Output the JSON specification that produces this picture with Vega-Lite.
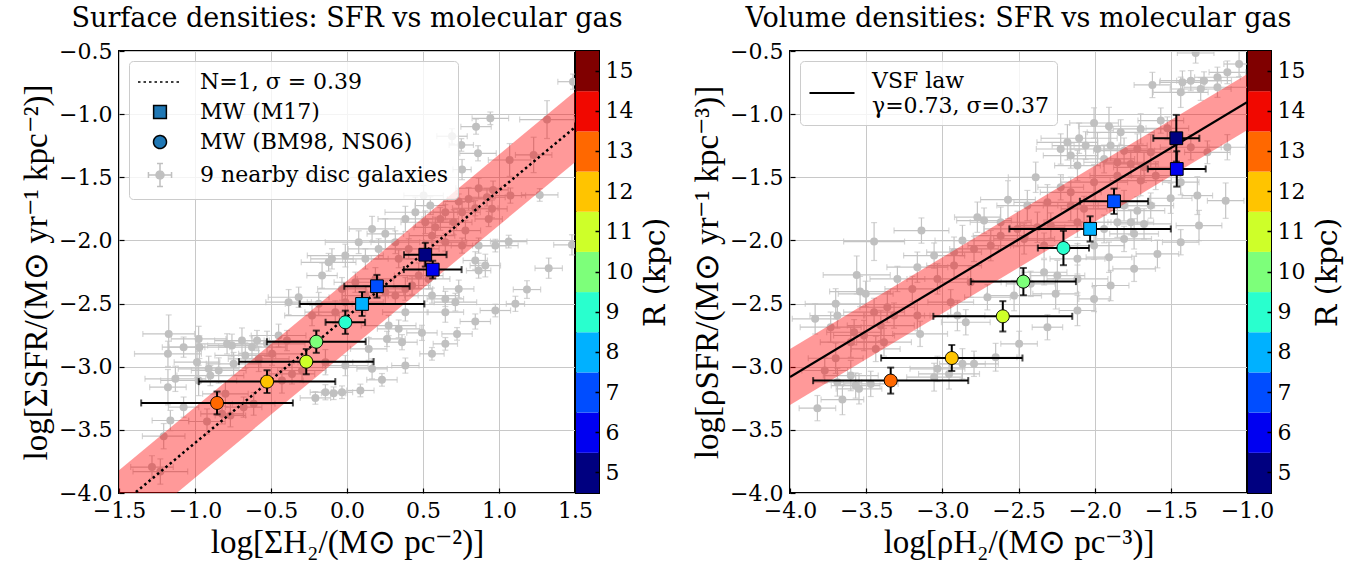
{
"$schema": "https://vega.github.io/schema/vega-lite/v6.json",
"background": "white",
"padding": {"left": 19, "top": 4, "right": 0, "bottom": 0},
"config": {
  "font": "DejaVu Serif",
  "view": {"stroke": "black", "strokeWidth": 2},
  "axis": {"labelFont": "DejaVu Serif", "labelFontSize": 22, "labelColor": "black", "titleFont": "Liberation Serif", "titleFontSize": 33, "titleFontWeight": "normal", "titleColor": "black", "gridColor": "#c8c8c8", "gridWidth": 1, "domain": false, "tickColor": "black", "tickSize": -5, "tickWidth": 1.2, "labelPadding": 12, "titlePadding": 5, "labelOverlap": false, "labelFlush": false},
  "title": {"font": "DejaVu Serif", "fontSize": 27, "fontWeight": "normal", "anchor": "middle", "offset": 7, "color": "black"}
},
"datasets": {
  "galL": [
    {"x":1.487,"y":-0.743,"ex":0.10,"ey":0.06},{"x":0.943,"y":-1.033,"ex":0.12,"ey":0.05},{"x":0.849,"y":-1.099,"ex":0.10,"ey":0.06},{"x":1.316,"y":-1.043,"ex":0.18,"ey":0.15},{"x":0.691,"y":-1.175,"ex":0.10,"ey":0.06},{"x":0.752,"y":-1.244,"ex":0.08,"ey":0.05},{"x":0.862,"y":-1.310,"ex":0.12,"ey":0.06},{"x":1.228,"y":-1.323,"ex":0.12,"ey":0.14},{"x":1.070,"y":-1.363,"ex":0.14,"ey":0.13},{"x":0.757,"y":-1.439,"ex":0.06,"ey":0.08},
    {"x":0.961,"y":-1.600,"ex":0.10,"ey":0.07},{"x":1.268,"y":-1.640,"ex":0.12,"ey":0.05},{"x":1.075,"y":-1.645,"ex":0.10,"ey":0.06},{"x":0.866,"y":-1.587,"ex":0.15,"ey":0.08},{"x":0.921,"y":-1.658,"ex":0.12,"ey":0.07},{"x":0.800,"y":-1.671,"ex":0.14,"ey":0.09},{"x":0.735,"y":-1.692,"ex":0.10,"ey":0.06},{"x":0.504,"y":-1.645,"ex":0.13,"ey":0.08},{"x":0.548,"y":-1.724,"ex":0.10,"ey":0.07},{"x":0.647,"y":-1.777,"ex":0.08,"ey":0.06},
    {"x":0.757,"y":-1.777,"ex":0.12,"ey":0.08},{"x":0.844,"y":-1.745,"ex":0.15,"ey":0.06},{"x":0.954,"y":-1.750,"ex":0.10,"ey":0.07},{"x":0.702,"y":-1.856,"ex":0.12,"ey":0.10},{"x":0.779,"y":-1.922,"ex":0.10,"ey":0.08},{"x":0.932,"y":-1.830,"ex":0.09,"ey":0.06},{"x":0.647,"y":-2.014,"ex":0.14,"ey":0.07},{"x":0.757,"y":-2.041,"ex":0.20,"ey":0.06},{"x":0.866,"y":-2.041,"ex":0.18,"ey":0.06},{"x":0.976,"y":-2.041,"ex":0.15,"ey":0.05},
    {"x":1.064,"y":-2.009,"ex":0.12,"ey":0.05},{"x":1.480,"y":-2.035,"ex":0.12,"ey":0.08},{"x":0.844,"y":-2.159,"ex":0.08,"ey":0.07},{"x":0.910,"y":-2.199,"ex":0.10,"ey":0.09},{"x":0.866,"y":-2.239,"ex":0.08,"ey":0.06},{"x":1.327,"y":-2.220,"ex":0.09,"ey":0.08},{"x":1.184,"y":-2.389,"ex":0.09,"ey":0.07},{"x":1.108,"y":-2.502,"ex":0.06,"ey":0.06},{"x":0.976,"y":-2.555,"ex":0.10,"ey":0.05},{"x":0.844,"y":-2.642,"ex":0.10,"ey":0.06},
    {"x":0.647,"y":-2.568,"ex":0.12,"ey":0.08},{"x":0.713,"y":-2.489,"ex":0.14,"ey":0.07},{"x":0.559,"y":-2.437,"ex":0.18,"ey":0.06},{"x":0.735,"y":-2.384,"ex":0.10,"ey":0.07},{"x":0.647,"y":-2.463,"ex":0.12,"ey":0.06},{"x":0.559,"y":-2.898,"ex":0.08,"ey":0.05},{"x":0.647,"y":-2.819,"ex":0.08,"ey":0.05},{"x":0.724,"y":-2.740,"ex":0.10,"ey":0.05},{"x":0.384,"y":-2.991,"ex":0.09,"ey":0.06},{"x":0.230,"y":-3.104,"ex":0.10,"ey":0.05},
    {"x":0.088,"y":-3.188,"ex":0.09,"ey":0.05},{"x":-0.033,"y":-3.202,"ex":0.07,"ey":0.05},{"x":-0.088,"y":-3.210,"ex":0.08,"ey":0.05},{"x":-0.142,"y":-3.202,"ex":0.10,"ey":0.06},{"x":-0.208,"y":-3.247,"ex":0.10,"ey":0.05},{"x":0.384,"y":-2.568,"ex":0.15,"ey":0.07},{"x":0.493,"y":-2.732,"ex":0.10,"ey":0.06},{"x":0.362,"y":-2.806,"ex":0.10,"ey":0.06},{"x":0.263,"y":-2.780,"ex":0.12,"ey":0.06},{"x":0.340,"y":-2.700,"ex":0.14,"ey":0.07},
    {"x":0.274,"y":-2.674,"ex":0.18,"ey":0.08},{"x":0.384,"y":-2.384,"ex":0.18,"ey":0.09},{"x":0.428,"y":-2.357,"ex":0.12,"ey":0.07},{"x":0.472,"y":-2.278,"ex":0.16,"ey":0.10},{"x":0.537,"y":-2.305,"ex":0.14,"ey":0.08},{"x":0.252,"y":-2.410,"ex":0.12,"ey":0.09},{"x":0.318,"y":-2.437,"ex":0.15,"ey":0.07},{"x":0.165,"y":-1.909,"ex":0.15,"ey":0.10},{"x":0.252,"y":-1.948,"ex":0.12,"ey":0.12},{"x":0.077,"y":-2.014,"ex":0.22,"ey":0.09},
    {"x":0.208,"y":-2.067,"ex":0.20,"ey":0.08},{"x":-0.121,"y":-2.173,"ex":0.18,"ey":0.07},{"x":-0.099,"y":-2.146,"ex":0.14,"ey":0.08},{"x":-0.164,"y":-2.278,"ex":0.10,"ey":0.10},{"x":-0.011,"y":-2.120,"ex":0.25,"ey":0.09},{"x":-0.318,"y":-2.450,"ex":0.20,"ey":0.08},{"x":-0.384,"y":-2.489,"ex":0.15,"ey":0.10},{"x":-0.186,"y":-2.502,"ex":0.22,"ey":0.09},{"x":-0.230,"y":-2.595,"ex":0.18,"ey":0.08},{"x":-0.077,"y":-2.568,"ex":0.20,"ey":0.09},
    {"x":-0.011,"y":-2.489,"ex":0.25,"ey":0.10},{"x":0.450,"y":-1.777,"ex":0.20,"ey":0.12},{"x":0.384,"y":-1.830,"ex":0.18,"ey":0.10},{"x":0.515,"y":-1.856,"ex":0.16,"ey":0.09},{"x":0.581,"y":-1.896,"ex":0.14,"ey":0.08},{"x":0.614,"y":-1.830,"ex":0.12,"ey":0.09},{"x":0.559,"y":-1.962,"ex":0.15,"ey":0.10},{"x":-1.173,"y":-2.740,"ex":0.17,"ey":0.15},{"x":-1.178,"y":-2.898,"ex":0.22,"ey":0.10},{"x":-1.075,"y":-2.845,"ex":0.14,"ey":0.08},
    {"x":-0.976,"y":-2.780,"ex":0.18,"ey":0.10},{"x":-0.971,"y":-2.845,"ex":0.20,"ey":0.09},{"x":-0.987,"y":-2.964,"ex":0.15,"ey":0.12},{"x":-0.789,"y":-2.819,"ex":0.20,"ey":0.08},{"x":-0.757,"y":-2.832,"ex":0.16,"ey":0.09},{"x":-0.691,"y":-2.793,"ex":0.18,"ey":0.10},{"x":-0.592,"y":-2.793,"ex":0.20,"ey":0.08},{"x":-0.625,"y":-2.845,"ex":0.22,"ey":0.09},{"x":-0.526,"y":-2.819,"ex":0.25,"ey":0.10},{"x":-0.450,"y":-2.753,"ex":0.18,"ey":0.09},
    {"x":-0.395,"y":-2.793,"ex":0.15,"ey":0.08},{"x":-0.669,"y":-2.911,"ex":0.20,"ey":0.10},{"x":-0.746,"y":-2.977,"ex":0.18,"ey":0.09},{"x":-0.581,"y":-2.938,"ex":0.20,"ey":0.10},{"x":-0.493,"y":-2.898,"ex":0.22,"ey":0.09},{"x":-0.910,"y":-3.017,"ex":0.20,"ey":0.10},{"x":-0.899,"y":-3.070,"ex":0.22,"ey":0.08},{"x":-0.844,"y":-3.030,"ex":0.18,"ey":0.10},{"x":-0.976,"y":-3.109,"ex":0.25,"ey":0.12},{"x":-1.129,"y":-3.096,"ex":0.20,"ey":0.10},
    {"x":-1.178,"y":-3.162,"ex":0.12,"ey":0.14},{"x":-1.075,"y":-3.320,"ex":0.10,"ey":0.08},{"x":-1.162,"y":-3.426,"ex":0.12,"ey":0.08},{"x":-1.206,"y":-3.550,"ex":0.14,"ey":0.10},{"x":-1.283,"y":-3.795,"ex":0.14,"ey":0.09},{"x":-1.228,"y":-3.830,"ex":0.18,"ey":0.10},{"x":-0.800,"y":-3.215,"ex":0.15,"ey":0.10},{"x":-0.680,"y":-3.320,"ex":0.12,"ey":0.08},{"x":-0.614,"y":-3.294,"ex":0.14,"ey":0.09},{"x":-0.921,"y":-3.434,"ex":0.12,"ey":0.10},
    {"x":-0.822,"y":-3.373,"ex":0.14,"ey":0.08},{"x":-0.767,"y":-3.386,"ex":0.10,"ey":0.09},{"x":-0.362,"y":-3.057,"ex":0.15,"ey":0.08},{"x":-0.428,"y":-3.109,"ex":0.14,"ey":0.10},{"x":-0.296,"y":-3.030,"ex":0.16,"ey":0.09},{"x":-0.142,"y":-2.964,"ex":0.18,"ey":0.10},{"x":-0.011,"y":-2.991,"ex":0.15,"ey":0.08},{"x":0.143,"y":-2.859,"ex":0.12,"ey":0.09},{"x":0.165,"y":-3.017,"ex":0.10,"ey":0.08},{"x":0.121,"y":-2.146,"ex":0.15,"ey":0.08},
    {"x":0.187,"y":-2.305,"ex":0.12,"ey":0.09},{"x":0.055,"y":-2.331,"ex":0.14,"ey":0.08},{"x":-0.033,"y":-2.384,"ex":0.16,"ey":0.09},{"x":0.121,"y":-2.437,"ex":0.15,"ey":0.08},{"x":0.340,"y":-2.146,"ex":0.18,"ey":0.07},{"x":0.406,"y":-2.067,"ex":0.20,"ey":0.08},{"x":0.318,"y":-2.014,"ex":0.16,"ey":0.09}
  ],
  "galR": [
    {"x":-1.337,"y":-0.516,"ex":0.12,"ey":0.08},{"x":-1.052,"y":-0.603,"ex":0.10,"ey":0.10},{"x":-1.129,"y":-0.669,"ex":0.12,"ey":0.09},{"x":-1.194,"y":-0.708,"ex":0.15,"ey":0.08},{"x":-1.282,"y":-0.735,"ex":0.18,"ey":0.07},{"x":-1.369,"y":-0.735,"ex":0.20,"ey":0.08},{"x":-1.424,"y":-0.748,"ex":0.15,"ey":0.09},{"x":-1.621,"y":-0.769,"ex":0.12,"ey":0.10},{"x":-1.435,"y":-0.827,"ex":0.18,"ey":0.12},{"x":-1.304,"y":-0.801,"ex":0.20,"ey":0.09},
    {"x":-1.194,"y":-0.787,"ex":0.22,"ey":0.08},{"x":-1.566,"y":-1.051,"ex":0.15,"ey":0.10},{"x":-1.698,"y":-1.117,"ex":0.18,"ey":0.12},{"x":-1.906,"y":-1.096,"ex":0.20,"ey":0.15},{"x":-2.004,"y":-1.070,"ex":0.16,"ey":0.12},{"x":-1.829,"y":-1.144,"ex":0.22,"ey":0.10},{"x":-1.523,"y":-1.112,"ex":0.14,"ey":0.09},{"x":-2.102,"y":-1.191,"ex":0.25,"ey":0.12},{"x":-2.179,"y":-1.223,"ex":0.20,"ey":0.14},{"x":-2.059,"y":-1.249,"ex":0.22,"ey":0.11},
    {"x":-1.982,"y":-1.276,"ex":0.18,"ey":0.13},{"x":-1.895,"y":-1.249,"ex":0.24,"ey":0.12},{"x":-1.807,"y":-1.289,"ex":0.20,"ey":0.10},{"x":-1.720,"y":-1.276,"ex":0.22,"ey":0.12},{"x":-1.632,"y":-1.302,"ex":0.18,"ey":0.14},{"x":-1.369,"y":-1.262,"ex":0.20,"ey":0.10},{"x":-1.260,"y":-1.302,"ex":0.15,"ey":0.09},{"x":-1.129,"y":-1.262,"ex":0.12,"ey":0.10},{"x":-2.223,"y":-1.276,"ex":0.16,"ey":0.12},{"x":-2.157,"y":-1.328,"ex":0.18,"ey":0.10},
    {"x":-2.113,"y":-1.407,"ex":0.15,"ey":0.12},{"x":-1.938,"y":-1.355,"ex":0.20,"ey":0.11},{"x":-1.851,"y":-1.381,"ex":0.22,"ey":0.13},{"x":-1.763,"y":-1.394,"ex":0.18,"ey":0.10},{"x":-1.676,"y":-1.421,"ex":0.20,"ey":0.12},{"x":-2.387,"y":-1.500,"ex":0.18,"ey":0.12},{"x":-2.223,"y":-1.579,"ex":0.15,"ey":0.10},{"x":-2.157,"y":-1.619,"ex":0.20,"ey":0.12},{"x":-2.004,"y":-1.539,"ex":0.22,"ey":0.14},{"x":-1.851,"y":-1.487,"ex":0.18,"ey":0.10},
    {"x":-1.698,"y":-1.526,"ex":0.20,"ey":0.12},{"x":-1.599,"y":-1.487,"ex":0.16,"ey":0.11},{"x":-1.435,"y":-1.539,"ex":0.12,"ey":0.10},{"x":-2.569,"y":-1.677,"ex":0.18,"ey":0.15},{"x":-2.442,"y":-1.724,"ex":0.20,"ey":0.12},{"x":-2.310,"y":-1.698,"ex":0.22,"ey":0.14},{"x":-2.157,"y":-1.724,"ex":0.18,"ey":0.12},{"x":-2.070,"y":-1.750,"ex":0.15,"ey":0.10},{"x":-1.807,"y":-1.724,"ex":0.20,"ey":0.12},{"x":-1.720,"y":-1.764,"ex":0.18,"ey":0.11},
    {"x":-1.632,"y":-1.724,"ex":0.15,"ey":0.10},{"x":-1.501,"y":-1.666,"ex":0.14,"ey":0.12},{"x":-1.326,"y":-1.645,"ex":0.10,"ey":0.15},{"x":-1.140,"y":-1.685,"ex":0.12,"ey":0.14},{"x":-2.770,"y":-1.816,"ex":0.15,"ey":0.12},{"x":-2.726,"y":-1.843,"ex":0.18,"ey":0.10},{"x":-2.617,"y":-1.856,"ex":0.20,"ey":0.12},{"x":-2.507,"y":-1.909,"ex":0.22,"ey":0.14},{"x":-2.376,"y":-1.896,"ex":0.18,"ey":0.12},{"x":-2.288,"y":-1.882,"ex":0.20,"ey":0.10},
    {"x":-2.113,"y":-1.856,"ex":0.22,"ey":0.12},{"x":-1.938,"y":-1.909,"ex":0.18,"ey":0.11},{"x":-1.851,"y":-1.856,"ex":0.20,"ey":0.12},{"x":-1.763,"y":-1.856,"ex":0.15,"ey":0.10},{"x":-1.676,"y":-1.869,"ex":0.18,"ey":0.12},{"x":-1.315,"y":-1.882,"ex":0.15,"ey":0.12},{"x":-1.435,"y":-2.014,"ex":0.12,"ey":0.10},{"x":-1.588,"y":-2.107,"ex":0.14,"ey":0.11},{"x":-3.137,"y":-1.922,"ex":0.18,"ey":0.10},{"x":-3.448,"y":-2.009,"ex":0.20,"ey":0.15},
    {"x":-2.868,"y":-2.001,"ex":0.18,"ey":0.12},{"x":-3.054,"y":-2.120,"ex":0.20,"ey":0.10},{"x":-2.923,"y":-2.093,"ex":0.18,"ey":0.12},{"x":-2.792,"y":-2.067,"ex":0.16,"ey":0.10},{"x":-2.682,"y":-2.041,"ex":0.15,"ey":0.12},{"x":-2.617,"y":-1.962,"ex":0.18,"ey":0.11},{"x":-2.463,"y":-1.988,"ex":0.20,"ey":0.12},{"x":-2.332,"y":-2.041,"ex":0.22,"ey":0.10},{"x":-2.113,"y":-2.146,"ex":0.18,"ey":0.12},{"x":-2.004,"y":-2.041,"ex":0.20,"ey":0.11},
    {"x":-1.906,"y":-2.133,"ex":0.15,"ey":0.12},{"x":-1.807,"y":-1.988,"ex":0.18,"ey":0.10},{"x":-1.741,"y":-1.948,"ex":0.16,"ey":0.12},{"x":-1.741,"y":-2.225,"ex":0.14,"ey":0.10},{"x":-1.895,"y":-2.357,"ex":0.12,"ey":0.12},{"x":-2.004,"y":-2.463,"ex":0.10,"ey":0.10},{"x":-3.164,"y":-2.212,"ex":0.20,"ey":0.12},{"x":-3.295,"y":-2.305,"ex":0.18,"ey":0.10},{"x":-3.562,"y":-2.273,"ex":0.22,"ey":0.15},{"x":-3.540,"y":-2.405,"ex":0.20,"ey":0.12},
    {"x":-3.503,"y":-2.423,"ex":0.18,"ey":0.10},{"x":-3.700,"y":-2.502,"ex":0.20,"ey":0.12},{"x":-3.689,"y":-2.595,"ex":0.18,"ey":0.10},{"x":-3.835,"y":-2.621,"ex":0.15,"ey":0.12},{"x":-3.448,"y":-2.568,"ex":0.20,"ey":0.11},{"x":-3.361,"y":-2.529,"ex":0.18,"ey":0.12},{"x":-3.317,"y":-2.595,"ex":0.20,"ey":0.10},{"x":-3.404,"y":-2.674,"ex":0.22,"ey":0.12},{"x":-3.197,"y":-2.384,"ex":0.18,"ey":0.10},{"x":-3.032,"y":-2.305,"ex":0.20,"ey":0.12},
    {"x":-2.923,"y":-2.199,"ex":0.18,"ey":0.11},{"x":-2.814,"y":-2.331,"ex":0.20,"ey":0.12},{"x":-2.704,"y":-2.450,"ex":0.15,"ey":0.10},{"x":-2.529,"y":-2.437,"ex":0.18,"ey":0.12},{"x":-2.332,"y":-2.252,"ex":0.15,"ey":0.10},{"x":-2.245,"y":-2.278,"ex":0.18,"ey":0.12},{"x":-2.113,"y":-2.305,"ex":0.20,"ey":0.11},{"x":-2.420,"y":-2.344,"ex":0.16,"ey":0.10},{"x":-2.256,"y":-2.423,"ex":0.15,"ey":0.12},{"x":-2.113,"y":-2.555,"ex":0.12,"ey":0.12},
    {"x":-2.310,"y":-2.687,"ex":0.10,"ey":0.10},{"x":-2.496,"y":-2.819,"ex":0.12,"ey":0.10},{"x":-2.650,"y":-2.925,"ex":0.14,"ey":0.11},{"x":-2.792,"y":-2.977,"ex":0.16,"ey":0.10},{"x":-2.868,"y":-2.977,"ex":0.15,"ey":0.12},{"x":-3.032,"y":-3.017,"ex":0.18,"ey":0.10},{"x":-2.956,"y":-3.057,"ex":0.20,"ey":0.12},{"x":-3.054,"y":-3.083,"ex":0.18,"ey":0.11},{"x":-3.733,"y":-2.687,"ex":0.20,"ey":0.12},{"x":-3.579,"y":-2.727,"ex":0.18,"ey":0.10},
    {"x":-3.514,"y":-2.753,"ex":0.20,"ey":0.12},{"x":-3.383,"y":-2.806,"ex":0.18,"ey":0.11},{"x":-3.437,"y":-2.859,"ex":0.16,"ey":0.10},{"x":-3.601,"y":-2.806,"ex":0.20,"ey":0.12},{"x":-3.146,"y":-2.740,"ex":0.18,"ey":0.10},{"x":-3.164,"y":-2.595,"ex":0.20,"ey":0.12},{"x":-2.846,"y":-2.648,"ex":0.16,"ey":0.10},{"x":-2.901,"y":-2.595,"ex":0.18,"ey":0.12},{"x":-2.945,"y":-2.489,"ex":0.15,"ey":0.10},{"x":-3.700,"y":-2.933,"ex":0.18,"ey":0.12},
    {"x":-3.772,"y":-3.030,"ex":0.15,"ey":0.10},{"x":-3.601,"y":-3.070,"ex":0.18,"ey":0.12},{"x":-3.569,"y":-3.149,"ex":0.16,"ey":0.10},{"x":-3.547,"y":-3.175,"ex":0.15,"ey":0.12},{"x":-3.470,"y":-3.136,"ex":0.18,"ey":0.10},{"x":-3.656,"y":-3.260,"ex":0.14,"ey":0.12},{"x":-3.820,"y":-3.328,"ex":0.12,"ey":0.10},{"x":-3.689,"y":-3.123,"ex":0.16,"ey":0.11}
  ],
  "mwL": [
    {"x":0.515,"y":-2.113,"ex":0.14,"ey":0.094,"R":5,"series":"MW (M17)"},
    {"x":0.564,"y":-2.231,"ex":0.19,"ey":0.07,"R":6,"series":"MW (M17)"},
    {"x":0.197,"y":-2.363,"ex":0.215,"ey":0.09,"R":7,"series":"MW (M17)"},
    {"x":0.099,"y":-2.503,"ex":0.41,"ey":0.095,"R":8,"series":"MW (M17)"},
    {"x":-0.011,"y":-2.648,"ex":0.13,"ey":0.092,"R":9,"series":"MW (BM98, NS06)"},
    {"x":-0.202,"y":-2.802,"ex":0.325,"ey":0.088,"R":10,"series":"MW (BM98, NS06)"},
    {"x":-0.268,"y":-2.960,"ex":0.443,"ey":0.10,"R":11,"series":"MW (BM98, NS06)"},
    {"x":-0.526,"y":-3.118,"ex":0.449,"ey":0.09,"R":12,"series":"MW (BM98, NS06)"},
    {"x":-0.855,"y":-3.287,"ex":0.499,"ey":0.09,"R":13,"series":"MW (BM98, NS06)"}
  ],
  "mwR": [
    {"x":-1.464,"y":-1.191,"ex":0.151,"ey":0.185,"R":5,"series":"MW (M17)"},
    {"x":-1.461,"y":-1.434,"ex":0.19,"ey":0.14,"R":6,"series":"MW (M17)"},
    {"x":-1.873,"y":-1.690,"ex":0.224,"ey":0.10,"R":7,"series":"MW (M17)"},
    {"x":-2.030,"y":-1.909,"ex":0.53,"ey":0.10,"R":8,"series":"MW (M17)"},
    {"x":-2.205,"y":-2.060,"ex":0.168,"ey":0.136,"R":9,"series":"MW (BM98, NS06)"},
    {"x":-2.468,"y":-2.326,"ex":0.345,"ey":0.108,"R":10,"series":"MW (BM98, NS06)"},
    {"x":-2.603,"y":-2.601,"ex":0.456,"ey":0.12,"R":11,"series":"MW (BM98, NS06)"},
    {"x":-2.938,"y":-2.931,"ex":0.464,"ey":0.103,"R":12,"series":"MW (BM98, NS06)"},
    {"x":-3.339,"y":-3.110,"ex":0.509,"ey":0.103,"R":13,"series":"MW (BM98, NS06)"}
  ],
  "bandL": [{"x":-1.5,"y":-4.38,"y2":-3.82},{"x":1.5,"y":-1.38,"y2":-0.82}],
  "lineL": [{"x":-1.5,"y":-4.104},{"x":1.5,"y":-1.104}],
  "bandR": [{"x":-4,"y":-3.303,"y2":-2.859},{"x":-1,"y":-1.128,"y2":-0.684}],
  "lineR": [{"x":-4,"y":-3.081,"series":"VSF law"},{"x":-1,"y":-0.906,"series":"VSF law"}],
  "cbar": [{"R":5},{"R":6},{"R":7},{"R":8},{"R":9},{"R":10},{"R":11},{"R":12},{"R":13},{"R":14},{"R":15}]
},
"resolve": {"scale": {"color": "independent", "fill": "independent", "shape": "independent", "stroke": "independent", "strokeDash": "independent"}, "legend": {"color": "independent", "fill": "independent", "shape": "independent", "stroke": "independent", "strokeDash": "independent"}},
"spacing": 18,
"hconcat": [
  {
    "bounds": "flush",
    "spacing": 1,
    "resolve": {"scale": {"color": "independent", "fill": "independent", "shape": "independent", "stroke": "independent", "strokeDash": "independent"}},
    "hconcat": [
      {
        "width": 456, "height": 442,
        "title": "Surface densities: SFR vs molecular gas",
        "encoding": {
          "x": {"field": "x", "type": "quantitative", "scale": {"domain": [-1.5, 1.5], "nice": false, "zero": false}, "axis": {"title": "log[ΣH₂/(M⊙ pc⁻²)]", "values": [-1.5,-1,-0.5,0,0.5,1,1.5], "format": ".1f"}},
          "y": {"field": "y", "type": "quantitative", "scale": {"domain": [-4, -0.5], "nice": false, "zero": false}, "axis": {"title": "log[ΣSFR/(M⊙ yr⁻¹ kpc⁻²)]", "values": [-4,-3.5,-3,-2.5,-2,-1.5,-1,-0.5], "format": ".1f"}}
        },
        "layer": [
          {"data": {"name": "galL"}, "mark": {"type": "errorbar", "color": "#c4c4c4", "thickness": 1.2, "ticks": {"size": 6, "thickness": 1.2}, "clip": true}, "encoding": {"xError": {"field": "ex"}}},
          {"data": {"name": "galL"}, "mark": {"type": "errorbar", "color": "#c4c4c4", "thickness": 1.2, "ticks": {"size": 6, "thickness": 1.2}, "clip": true}, "encoding": {"yError": {"field": "ey"}}},
          {"data": {"name": "galL"}, "mark": {"type": "circle", "color": "#c0c0c0", "size": 64, "opacity": 1, "clip": true}},
          {"data": {"name": "bandL"}, "mark": {"type": "area", "color": "#ff0000", "opacity": 0.4, "clip": true}, "encoding": {"y2": {"field": "y2"}}},
          {"data": {"name": "lineL"}, "mark": {"type": "line", "color": "black", "strokeWidth": 2.5, "strokeDash": [2.5, 3], "clip": true}},
          {"data": {"name": "mwL"}, "mark": {"type": "errorbar", "color": "black", "thickness": 2, "ticks": {"size": 7, "thickness": 2}}, "encoding": {"xError": {"field": "ex"}}},
          {"data": {"name": "mwL"}, "mark": {"type": "errorbar", "color": "black", "thickness": 2, "ticks": {"size": 7, "thickness": 2}}, "encoding": {"yError": {"field": "ey"}}},
          {"data": {"name": "mwL"}, "mark": {"type": "point", "filled": true, "size": 484, "stroke": "black", "strokeWidth": 1, "opacity": 1},
           "encoding": {
             "fill": {"field": "R", "type": "ordinal", "scale": {"domain": [5,6,7,8,9,10,11,12,13,14,15], "range": ["#000080","#0000f1","#004dff","#00b1ff","#29ffce","#7dff7a","#ceff29","#ffc400","#ff6800","#f10800","#800000"]}, "legend": null},
             "shape": {"field": "series", "type": "nominal",
               "scale": {"domain": ["N=1, σ = 0.39", "MW (M17)", "MW (BM98, NS06)", "9 nearby disc galaxies"],
                         "range": ["M-2,0H2", "M-0.58,-0.58H0.58V0.58H-0.58Z", "M0.59,0A0.59,0.59,0,1,1,-0.59,0A0.59,0.59,0,1,1,0.59,0Z", "M-1.05,0H1.05M-1.05,-0.27V0.27M1.05,-0.27V0.27M0,-1.05V1.05M-0.27,-1.05H0.27M-0.27,1.05H0.27M0.36,0A0.36,0.36,0,1,1,-0.36,0A0.36,0.36,0,1,1,0.36,0Z"]}}
           }},
          {"data": {"name": "mwL"}, "transform": [{"filter": "false"}],
           "mark": {"type": "point", "filled": true, "size": 484, "strokeWidth": 1.5, "opacity": 1},
           "encoding": {
             "color": {"field": "series", "type": "nominal",
               "scale": {"domain": ["N=1, σ = 0.39", "MW (M17)", "MW (BM98, NS06)", "9 nearby disc galaxies"], "range": ["transparent", "#1f77b4", "#1f77b4", "#c0c0c0"]},
               "legend": {"title": null, "orient": "top-left", "offset": 10, "padding": 9, "fillColor": "rgba(255,255,255,0.8)", "strokeColor": "#cccccc", "cornerRadius": 4,
                 "symbolSize": 484, "symbolStrokeWidth": 1.5, "symbolOpacity": 1, "symbolOffset": 10, "labelFont": "DejaVu Serif", "labelFontSize": 22, "labelColor": "black", "labelOffset": 28, "rowPadding": 7, "labelLimit": 400}},
             "stroke": {"field": "series", "type": "nominal",
               "scale": {"domain": ["N=1, σ = 0.39", "MW (M17)", "MW (BM98, NS06)", "9 nearby disc galaxies"], "range": ["black", "black", "black", "#c0c0c0"]}},
             "strokeDash": {"field": "series", "type": "nominal",
               "scale": {"domain": ["N=1, σ = 0.39", "MW (M17)", "MW (BM98, NS06)", "9 nearby disc galaxies"], "range": [[2.5, 3], [1, 0], [1, 0], [1, 0]]}},
             "shape": {"field": "series", "type": "nominal",
               "scale": {"domain": ["N=1, σ = 0.39", "MW (M17)", "MW (BM98, NS06)", "9 nearby disc galaxies"],
                         "range": ["M-2,0H2", "M-0.58,-0.58H0.58V0.58H-0.58Z", "M0.59,0A0.59,0.59,0,1,1,-0.59,0A0.59,0.59,0,1,1,0.59,0Z", "M-1.05,0H1.05M-1.05,-0.27V0.27M1.05,-0.27V0.27M0,-1.05V1.05M-0.27,-1.05H0.27M-0.27,1.05H0.27M0.36,0A0.36,0.36,0,1,1,-0.36,0A0.36,0.36,0,1,1,0.36,0Z"]}}
           }}
        ]
      },
      {
        "width": 23, "height": 442,
        "data": {"name": "cbar"},
        "mark": {"type": "rect"},
        "encoding": {
          "y": {"field": "R", "type": "ordinal", "sort": "descending", "scale": {"paddingInner": 0, "paddingOuter": 0}, "axis": {"orient": "right", "title": "R (kpc)", "titleFont": "DejaVu Serif", "titleFontSize": 30, "titleAngle": 270, "titleBaseline": "top", "titlePadding": 8, "grid": false, "tickSize": -4, "tickWidth": 1.5, "labelPadding": 10, "labelAngle": 0}},
          "color": {"field": "R", "type": "ordinal", "scale": {"domain": [5,6,7,8,9,10,11,12,13,14,15], "range": ["#000080","#0000f1","#004dff","#00b1ff","#29ffce","#7dff7a","#ceff29","#ffc400","#ff6800","#f10800","#800000"]}, "legend": null}
        }
      }
    ]
  },
  {
    "bounds": "flush",
    "spacing": 1,
    "resolve": {"scale": {"color": "independent", "fill": "independent", "shape": "independent", "stroke": "independent", "strokeDash": "independent"}},
    "hconcat": [
      {
        "width": 457, "height": 442,
        "title": "Volume densities: SFR vs molecular gas",
        "encoding": {
          "x": {"field": "x", "type": "quantitative", "scale": {"domain": [-4, -1], "nice": false, "zero": false}, "axis": {"title": "log[ρH₂/(M⊙ pc⁻³)]", "values": [-4,-3.5,-3,-2.5,-2,-1.5,-1], "format": ".1f"}},
          "y": {"field": "y", "type": "quantitative", "scale": {"domain": [-4, -0.5], "nice": false, "zero": false}, "axis": {"title": "log[ρSFR/(M⊙ yr⁻¹ kpc⁻³)]", "values": [-4,-3.5,-3,-2.5,-2,-1.5,-1,-0.5], "format": ".1f"}}
        },
        "layer": [
          {"data": {"name": "galR"}, "mark": {"type": "errorbar", "color": "#c4c4c4", "thickness": 1.2, "ticks": {"size": 6, "thickness": 1.2}, "clip": true}, "encoding": {"xError": {"field": "ex"}}},
          {"data": {"name": "galR"}, "mark": {"type": "errorbar", "color": "#c4c4c4", "thickness": 1.2, "ticks": {"size": 6, "thickness": 1.2}, "clip": true}, "encoding": {"yError": {"field": "ey"}}},
          {"data": {"name": "galR"}, "mark": {"type": "circle", "color": "#c0c0c0", "size": 64, "opacity": 1, "clip": true}},
          {"data": {"name": "bandR"}, "mark": {"type": "area", "color": "#ff0000", "opacity": 0.4, "clip": true}, "encoding": {"y2": {"field": "y2"}}},
          {"data": {"name": "lineR"}, "mark": {"type": "line", "strokeWidth": 2.2, "clip": true},
           "encoding": {"color": {"field": "series", "type": "nominal", "scale": {"range": ["black"]},
             "legend": {"title": null, "orient": "top-left", "offset": 10, "padding": 8, "fillColor": "rgba(255,255,255,0.8)", "strokeColor": "#cccccc", "cornerRadius": 4,
               "symbolType": "stroke", "symbolSize": 2025, "symbolStrokeWidth": 2.2, "labelFont": "DejaVu Serif", "labelFontSize": 22, "labelColor": "black", "labelOffset": 16, "labelLimit": 400,
               "labelExpr": "['VSF law', 'γ=0.73, σ=0.37']",
               "encode": {"labels": {"update": {"lineHeight": {"value": 25}, "dy": {"value": -12.5}}}}}}}},
          {"data": {"name": "mwR"}, "mark": {"type": "errorbar", "color": "black", "thickness": 2, "ticks": {"size": 7, "thickness": 2}}, "encoding": {"xError": {"field": "ex"}}},
          {"data": {"name": "mwR"}, "mark": {"type": "errorbar", "color": "black", "thickness": 2, "ticks": {"size": 7, "thickness": 2}}, "encoding": {"yError": {"field": "ey"}}},
          {"data": {"name": "mwR"}, "mark": {"type": "point", "filled": true, "size": 484, "stroke": "black", "strokeWidth": 1, "opacity": 1},
           "encoding": {
             "fill": {"field": "R", "type": "ordinal", "scale": {"domain": [5,6,7,8,9,10,11,12,13,14,15], "range": ["#000080","#0000f1","#004dff","#00b1ff","#29ffce","#7dff7a","#ceff29","#ffc400","#ff6800","#f10800","#800000"]}, "legend": null},
             "shape": {"field": "series", "type": "nominal",
               "scale": {"domain": ["MW (M17)", "MW (BM98, NS06)"], "range": ["M-0.58,-0.58H0.58V0.58H-0.58Z", "M0.59,0A0.59,0.59,0,1,1,-0.59,0A0.59,0.59,0,1,1,0.59,0Z"]},
               "legend": null}
           }}
        ]
      },
      {
        "width": 23, "height": 442,
        "data": {"name": "cbar"},
        "mark": {"type": "rect"},
        "encoding": {
          "y": {"field": "R", "type": "ordinal", "sort": "descending", "scale": {"paddingInner": 0, "paddingOuter": 0}, "axis": {"orient": "right", "title": "R (kpc)", "titleFont": "DejaVu Serif", "titleFontSize": 30, "titleAngle": 270, "titleBaseline": "top", "titlePadding": 8, "grid": false, "tickSize": -4, "tickWidth": 1.5, "labelPadding": 10, "labelAngle": 0}},
          "color": {"field": "R", "type": "ordinal", "scale": {"domain": [5,6,7,8,9,10,11,12,13,14,15], "range": ["#000080","#0000f1","#004dff","#00b1ff","#29ffce","#7dff7a","#ceff29","#ffc400","#ff6800","#f10800","#800000"]}, "legend": null}
        }
      }
    ]
  }
]
}
